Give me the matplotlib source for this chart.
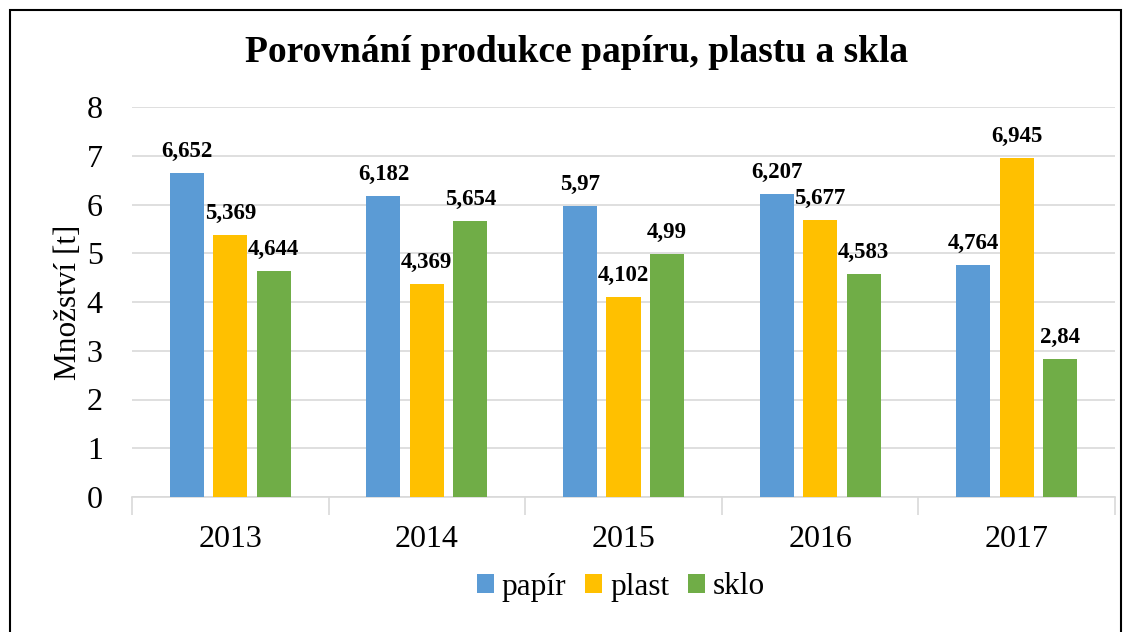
import matplotlib
matplotlib.use("Agg")
import matplotlib.pyplot as plt
import numpy as np
from matplotlib.patches import Rectangle

years = ["2013", "2014", "2015", "2016", "2017"]
papir = [6.652, 6.182, 5.97, 6.207, 4.764]
plast = [5.369, 4.369, 4.102, 5.677, 6.945]
sklo = [4.644, 5.654, 4.99, 4.583, 2.84]
labels_papir = ["6,652", "6,182", "5,97", "6,207", "4,764"]
labels_plast = ["5,369", "4,369", "4,102", "5,677", "6,945"]
labels_sklo = ["4,644", "5,654", "4,99", "4,583", "2,84"]
series_names = ["papír", "plast", "sklo"]
colors = ["#5B9BD5", "#FFC000", "#70AD47"]

plt.rcParams['font.family'] = ['Liberation Serif', 'DejaVu Serif']

W, H = 1133, 632
fig = plt.figure(figsize=(W/100, H/100), dpi=100)
ax = fig.add_axes([132/W, 1-497/H, (1115-132)/W, (497-107)/H])

x = np.arange(len(years))
bw = 0.173
step = 0.221
series = [papir, plast, sklo]
lbls = [labels_papir, labels_plast, labels_sklo]
for i, (vals, lab, c, name) in enumerate(zip(series, lbls, colors, series_names)):
    pos = x + (i-1)*step
    ax.bar(pos, vals, width=bw, color=c, label=name, zorder=3)
    for p, v, t in zip(pos, vals, lab):
        ax.annotate(t, (p, v), xytext=(0, 11.5), textcoords='offset points',
                    ha='center', va='baseline', fontsize=16.5, fontweight='bold', zorder=4)

ax.set_xlim(-0.5, 4.5)
ax.set_ylim(0, 8)
ax.set_yticks(range(0, 9))
ax.yaxis.grid(True, color='#D9D9D9', linewidth=1.2, zorder=0)
ax.set_axisbelow(True)
for s in ['top', 'right', 'left']:
    ax.spines[s].set_visible(False)
ax.spines['bottom'].set_color('#D9D9D9')
ax.spines['bottom'].set_linewidth(1.2)
ax.set_xticks(x)
ax.set_xticklabels(years, fontsize=23)
ax.tick_params(axis='x', length=0, pad=20)
ax.set_xticks(np.arange(-0.5, 5, 1), minor=True)
ax.tick_params(axis='x', which='minor', length=13, color='#D9D9D9', width=1.2)
ax.tick_params(axis='y', length=0, labelsize=23, pad=21)
ax.set_ylabel("Množství [t]", fontsize=22.5, labelpad=3)

fig.text(577/W, 1-52/H, "Porovnání produkce papíru, plastu a skla",
         ha='center', va='center', fontsize=27, fontweight='bold')

leg = fig.legend(loc='center', bbox_to_anchor=(621/W, 1-587/H), ncol=3, frameon=False,
                 fontsize=22.5, handlelength=0.55, handleheight=0.55, handletextpad=0.25,
                 columnspacing=0.6)

fig.patches.append(Rectangle((10/W, -0.05), (1121-10)/W, 1-10/H+0.05,
                             transform=fig.transFigure, fill=False,
                             edgecolor='black', linewidth=1.5))

fig.savefig("out.png", dpi=100, facecolor='white')
